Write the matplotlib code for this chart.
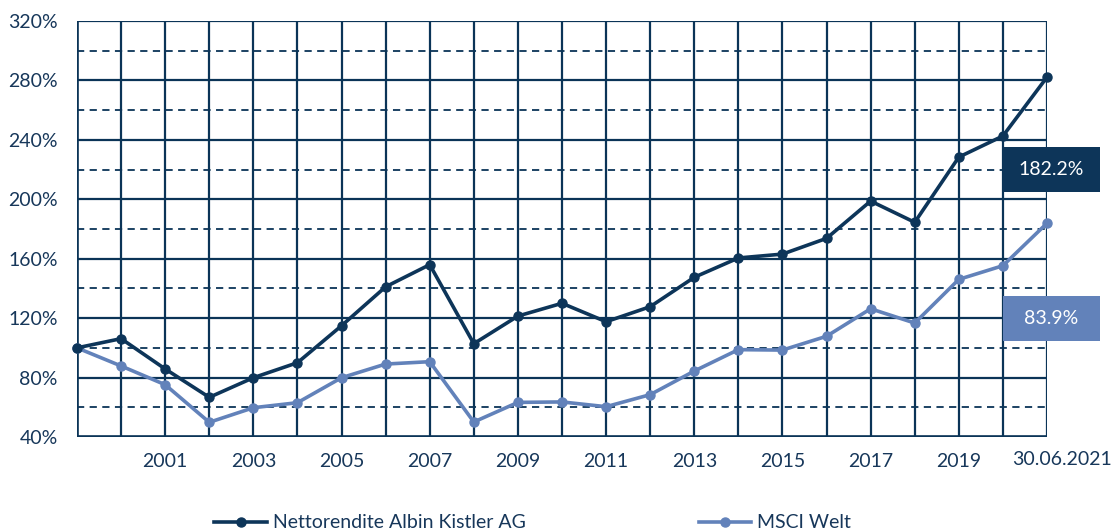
import matplotlib
matplotlib.use("Agg")
import matplotlib.pyplot as plt
import matplotlib.transforms as mtransforms
from matplotlib.patches import Rectangle

plt.rcParams['font.family'] = ['Lato', 'DejaVu Sans']

# ---- data ----
x_index = list(range(23))
x_labels = ['', '', '2001', '', '2003', '', '2005', '', '2007', '', '2009', '',
            '2011', '', '2013', '', '2015', '', '2017', '', '2019', '', '30.06.2021']
albin = [100, 106.2, 85.8, 66.7, 79.9, 90, 114.9, 141.1, 156, 102.8, 121.4, 130,
         117.6, 127.7, 147.5, 160.5, 163.1, 173.7, 198.8, 184.5, 228.4, 242.6, 282.2]
msci = [100, 87.8, 75.2, 49.9, 59.7, 63.1, 79.9, 89.1, 90.7, 50.1, 63.3, 63.6,
        60.4, 68.5, 84.4, 98.8, 98.5, 107.8, 126.3, 116.7, 146.1, 155.3, 183.9]
series_names = ['Nettorendite Albin Kistler AG', 'MSCI Welt']
box_labels = ['182.2%', '83.9%']
y_major = [40, 80, 120, 160, 200, 240, 280, 320]
y_minor = [60, 100, 140, 180, 220, 260, 300]

NAVY = '#0b3457'
DARK = '#0d3559'
LIGHT = '#6282ba'
TXT = '#17375a'
FS = 14

fig = plt.figure(figsize=(11.12, 5.31), dpi=100)
ax = fig.add_axes([77/1112, 1 - 437/531, (1047-77)/1112, (437-21)/531])
ax.set_xlim(0, 22)
ax.set_ylim(40, 320)

# grid
for v in x_index:
    ax.axvline(v, color=NAVY, lw=1.6, zorder=1)
for v in y_major:
    ax.axhline(v, color=NAVY, lw=1.6, zorder=1)
for v in y_minor:
    ax.axhline(v, color=NAVY, lw=1.3, ls=(0, (4, 3)), zorder=1)

for s in ax.spines.values():
    s.set_visible(False)
ax.axvline(0, color=NAVY, lw=2.6, zorder=2)
ax.axhline(40, color=NAVY, lw=2.6, zorder=2)

l1, = ax.plot(x_index, albin, color=DARK, lw=2.6, marker='o', ms=6.5, zorder=4,
              label=series_names[0], clip_on=False)
l2, = ax.plot(x_index, msci, color=LIGHT, lw=2.6, marker='o', ms=6.5, zorder=3,
              label=series_names[1], clip_on=False)

ax.set_yticks(y_major)
ax.set_yticklabels([f'{v}%' for v in y_major])
ax.set_xticks(x_index)
ax.set_xticklabels(x_labels)
ax.tick_params(axis='both', length=0, labelsize=FS, colors=TXT)
ax.tick_params(axis='x', pad=11.5)
ax.tick_params(axis='y', pad=14)
last = ax.get_xticklabels()[-1]
last.set_transform(last.get_transform() + mtransforms.ScaledTranslation(15/100, 2/100, fig.dpi_scale_trans))

# value boxes
for yc, txt, col in [(220, box_labels[0], DARK), (120, box_labels[1], LIGHT)]:
    h = 45 / 1.486
    rect = Rectangle((21, yc - h/2), 2.2, h, facecolor=col, edgecolor='none',
                     zorder=5, clip_on=False)
    ax.add_patch(rect)
    ax.text(22.1, yc, txt, color='white', fontsize=FS, ha='center', va='center',
            zorder=6, clip_on=False)

leg = fig.legend(handles=[l1, l2], loc='center', bbox_to_anchor=(0.479, 1 - 523/531),
                 ncol=2, frameon=False, fontsize=FS, handlelength=2.7,
                 columnspacing=8.9, handletextpad=0.3, borderaxespad=0)
for t in leg.get_texts():
    t.set_color(TXT)

fig.savefig('out.png', dpi=100)
